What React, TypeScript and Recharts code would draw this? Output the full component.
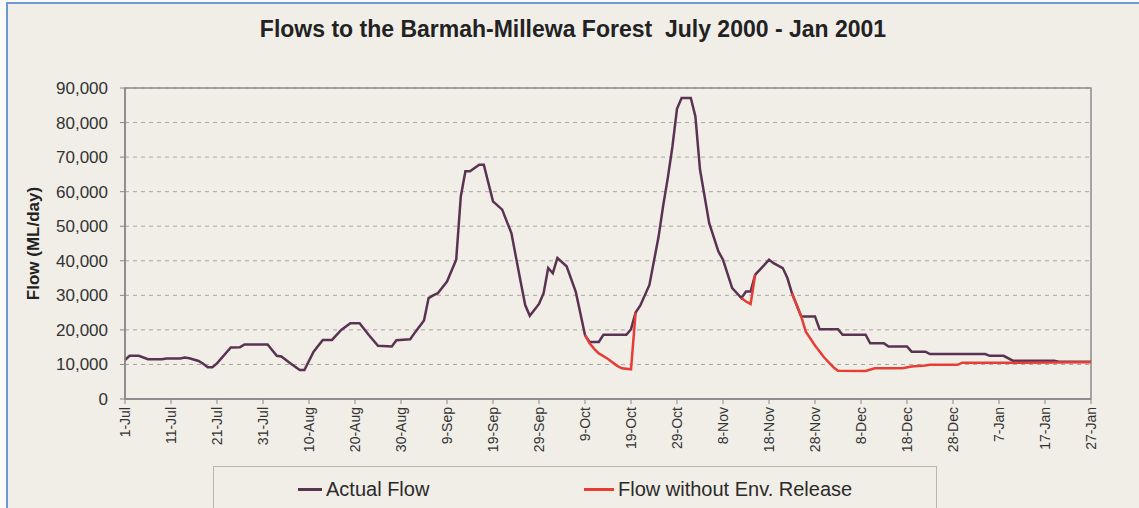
import React from 'react'
import { LineChart, Line, XAxis, YAxis, CartesianGrid, ReferenceArea, Legend } from 'recharts'

const FONT = '"Liberation Sans", Arial, sans-serif'

// day 0 = 1-Jul-2000
const tickDays = [0, 10, 20, 30, 40, 50, 60, 70, 80, 90, 100, 110, 120, 130, 140, 150, 160, 170, 180, 190, 200, 210]
const tickLabels = [
  '1-Jul', '11-Jul', '21-Jul', '31-Jul', '10-Aug', '20-Aug', '30-Aug', '9-Sep', '19-Sep', '29-Sep', '9-Oct',
  '19-Oct', '29-Oct', '8-Nov', '18-Nov', '28-Nov', '8-Dec', '18-Dec', '28-Dec', '7-Jan', '17-Jan', '27-Jan',
]
const yTicks = [0, 10000, 20000, 30000, 40000, 50000, 60000, 70000, 80000, 90000]

const actualDays = [
  0, 1, 3, 5, 8, 9, 12, 13, 14, 16, 17, 18, 19, 20, 23, 25, 26, 31, 33, 34, 36, 38, 39, 41, 43, 45, 47, 49, 51, 53,
  55, 58, 59, 62, 63, 65, 66, 67, 68, 70, 72, 73, 74, 75, 77, 78, 80, 82, 84, 86, 87, 88, 90, 91, 92, 93, 94, 96,
  98, 100, 101, 103, 104, 109, 110, 111, 112, 114, 116, 117, 118, 119, 120, 121, 123, 124, 125, 127, 129, 130, 132,
  134, 135, 136, 137, 139, 140, 141, 143, 144, 145, 147, 150, 151, 155, 156, 161, 162, 165, 166, 170, 171, 174, 175,
  187, 188, 191, 193, 202, 203, 210,
]
const actualFlow = [
  11300, 12500, 12500, 11500, 11500, 11700, 11700, 12000, 11800, 11000, 10200, 9200, 9200, 10300, 14900, 15000,
  15800, 15800, 12500, 12300, 10300, 8400, 8400, 13700, 17100, 17100, 20000, 21900, 21900, 18500, 15400, 15200,
  17000, 17300, 19200, 22700, 29200, 30000, 30600, 34000, 40300, 58600, 65900, 65900, 67800, 67800, 57200, 54800,
  48000, 34000, 27200, 24100, 27500, 30600, 37900, 36400, 40800, 38400, 31000, 18500, 16500, 16500, 18600, 18600,
  20200, 25000, 27000, 33000, 47000, 56000, 64000, 73000, 84000, 87100, 87100, 81800, 66400, 50900, 42700, 40300,
  32100, 29200, 31100, 31100, 36000, 38800, 40300, 39300, 37900, 35000, 30600, 23900, 23900, 20200, 20200, 18600,
  18600, 16100, 16100, 15200, 15200, 13700, 13700, 13000, 13000, 12500, 12500, 11100, 11100, 10800, 10800,
]

const releaseDays = [
  100, 101, 102, 103, 105, 107, 108, 110, 111, 122, 134, 135, 136, 137, 141, 145, 147, 148, 150, 152, 154, 155, 161,
  163, 169, 171, 174, 175, 181, 182, 194, 210,
]
const releaseFlow = [
  18500, 16100, 14500, 13200, 11600, 9600, 8900, 8600, 25000, null, 29200, 28200, 27500, 36000, null, 30600, 23900,
  19500, 15500, 12000, 9200, 8200, 8100, 8900, 8900, 9400, 9700, 9900, 9900, 10500, 10500, 10600,
]

const actualData = actualDays.map((day, i) => ({ day, flow: actualFlow[i] }))
const releaseData = releaseDays.map((day, i) => ({ day, flow: releaseFlow[i] }))

const ACTUAL = '#5a3252'
const RELEASE = '#e63e35'

function XTick({ x, y, payload }: any) {
  const label = tickLabels[tickDays.indexOf(payload.value)]
  return (
    <text
      x={x}
      y={y}
      transform={`rotate(-90 ${x} ${y})`}
      textAnchor="end"
      dominantBaseline="central"
      fontSize={14}
      fill="#333"
      fontFamily={FONT}
    >
      {label}
    </text>
  )
}

function YLabel({ viewBox }: any) {
  const cx = 33
  const cy = viewBox.y + viewBox.height / 2
  return (
    <text
      x={cx}
      y={cy}
      transform={`rotate(-90 ${cx} ${cy})`}
      textAnchor="middle"
      dominantBaseline="central"
      fontSize={17}
      fontWeight="bold"
      fill="#222"
      fontFamily={FONT}
    >
      Flow (ML/day)
    </text>
  )
}

function LegendBox() {
  const item = (left: number, sw: number, color: string, text: string) => (
    <div style={{ position: 'absolute', left, top: 0, height: '100%', display: 'flex', alignItems: 'center' }}>
      <div style={{ width: sw, height: 3, background: color, marginRight: 4 }} />
      <span style={{ fontSize: 20, color: '#2a2a2a', fontFamily: FONT }}>{text}</span>
    </div>
  )
  return (
    <div style={{ position: 'relative', width: '100%', height: '100%', border: '1px solid #b8b6b0', boxSizing: 'border-box' }}>
      {item(84, 24, ACTUAL, 'Actual Flow')}
      {item(370, 30, RELEASE, 'Flow without Env. Release')}
    </div>
  )
}

export default function App() {
  return (
    <div style={{ position: 'absolute', left: 0, top: 0, width: 1139, height: 508, background: '#fbfaf8', overflow: 'hidden' }}>
      <div
        style={{
          position: 'absolute',
          left: 6,
          top: 2,
          width: 1133,
          height: 506,
          background: '#f1eee8',
          borderTop: '2px solid #6f97d6',
          borderLeft: '2px solid #6f97d6',
        }}
      />
      <div
        style={{
          position: 'absolute',
          left: 0,
          width: 1146,
          top: 16,
          textAlign: 'center',
          fontFamily: FONT,
          fontWeight: 'bold',
          fontSize: 23,
          color: '#222',
          whiteSpace: 'pre',
        }}
      >
        {'Flows to the Barmah-Millewa Forest  July 2000 - Jan 2001'}
      </div>
      <div style={{ position: 'absolute', left: 0, top: 0 }}>
        <LineChart width={1139} height={508} margin={{ top: 88, right: 48, left: 0, bottom: 0 }}>
          <CartesianGrid vertical={false} strokeDasharray="4 4" stroke="#a8a6a2" />
          <XAxis
            type="number"
            dataKey="day"
            domain={[0, 210]}
            ticks={tickDays}
            interval={0}
            height={109}
            tick={<XTick />}
            tickSize={5}
            tickMargin={3}
            tickLine={{ stroke: '#888' }}
            axisLine={{ stroke: '#888', strokeWidth: 1.5 }}
          />
          <YAxis
            domain={[0, 90000]}
            ticks={yTicks}
            width={125}
            tickSize={5}
            tickMargin={12}
            tickFormatter={(v: number) => v.toLocaleString('en-US')}
            tick={{ fontSize: 17, fill: '#333', fontFamily: FONT }}
            tickLine={{ stroke: '#888' }}
            axisLine={{ stroke: '#888', strokeWidth: 1.5 }}
            label={<YLabel />}
          />
          <ReferenceArea x1={0} x2={210} y1={0} y2={90000} fill="none" stroke="#8c8c8c" strokeWidth={1.5} ifOverflow="visible" />
          <Line
            name="Actual Flow"
            data={actualData}
            dataKey="flow"
            type="linear"
            stroke={ACTUAL}
            strokeWidth={2.5}
            dot={false}
            isAnimationActive={false}
          />
          <Line
            name="Flow without Env. Release"
            data={releaseData}
            dataKey="flow"
            type="linear"
            stroke={RELEASE}
            strokeWidth={2.5}
            dot={false}
            isAnimationActive={false}
          />
          <Legend
            layout="horizontal"
            verticalAlign="middle"
            align="center"
            content={<LegendBox />}
            wrapperStyle={{ left: 213, top: 466, width: 724, height: 46 }}
          />
        </LineChart>
      </div>
    </div>
  )
}
